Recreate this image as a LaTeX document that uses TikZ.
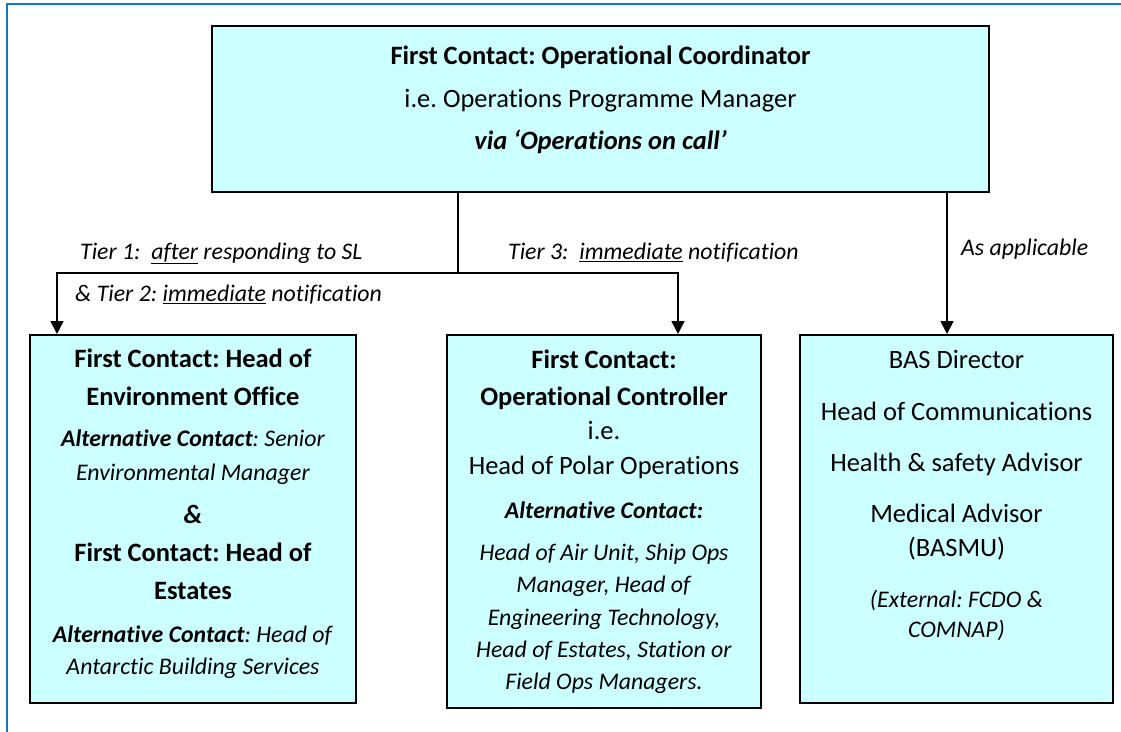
\documentclass[tikz,border=0pt]{standalone}
\usepackage{fontspec}
\setmainfont{Carlito}[Ligatures=NoCommon]
\frenchspacing
\usetikzlibrary{arrows.meta,positioning}

\definecolor{boxcyan}{HTML}{CCFFFF}
\definecolor{frameblue}{HTML}{1874C4}

% text sizes used inside the boxes
\newcommand{\mainsize}{\fontsize{26.5}{32}\selectfont}
\newcommand{\notesize}{\fontsize{23.8}{32}\selectfont}

\begin{document}
\begin{tikzpicture}[x=1pt,y=-1pt,
    box/.style={draw=black,line width=2pt,fill=boxcyan,anchor=north west,inner sep=0pt},
    boxtext/.style={anchor=base,align=center,inner sep=0pt,font=\mainsize},
    link/.style={line width=1.6pt},
    arrow/.style={link,-{Triangle[width=13pt,length=13pt]}},
    tier/.style={anchor=base west,inner sep=0pt,font=\notesize\itshape}]
  \useasboundingbox (0,0) rectangle (1121,731);
  \draw[frameblue,line width=2pt] (7,740) -- (7,4) -- (1130,4);

  % the four boxes
  \node[box,minimum width=777pt,minimum height=166pt] (top) at (211,25) {};
  \node[box,minimum width=326pt,minimum height=368pt] (env) at (29,334) {};
  \node[box,minimum width=314pt,minimum height=373pt] (ctrl) at (446,334) {};
  \node[box,minimum width=313pt,minimum height=368pt] (advisors) at (799,334) {};

  % box texts, placed by the baseline of their last line
  \node[boxtext] (toptext) at ([yshift=-124pt]top.north)
    {\textbf{First Contact: Operational Coordinator}\\[11pt]
     i.e. Operations Programme Manager\\[9.3pt]
     \textbf{\textit{via ‘Operations on call’}}};
  \node[boxtext] (envtext) at ([yshift=-340.7pt]env.north)
    {\textbf{First Contact: Head of}\\[5.5pt]
     \textbf{Environment Office}\\[9.3pt]
     {\notesize\textit{\textbf{Alternative Contact}: Senior}}\\[1.7pt]
     {\notesize\textit{Environmental Manager}}\\[11.3pt]
     \textbf{\textit{\&}}\\[6pt]
     \textbf{First Contact: Head of}\\[5.5pt]
     \textbf{Estates}\\[11.7pt]
     {\notesize\textit{\textbf{Alternative Contact}: Head of}}\\
     {\notesize\textit{Antarctic Building Services}}};
  \node[boxtext] (ctrltext) at ([yshift=-355.3pt]ctrl.north)
    {\textbf{First Contact:}\\[5pt]
     \textbf{Operational Controller}\\[1.3pt]
     i.e.\\[3.7pt]
     Head of Polar Operations\\[11.3pt]
     {\notesize\textit{\textbf{Alternative Contact:}}}\\[10pt]
     {\notesize\textit{Head of Air Unit, Ship Ops}}\\[0.7pt]
     {\notesize\textit{Manager, Head of}}\\[0.3pt]
     {\notesize\textit{Engineering Technology,}}\\[0.3pt]
     {\notesize\textit{Head of Estates, Station or}}\\
     {\notesize\textit{Field Ops Managers.}}};
  \node[boxtext] (advtext) at ([yshift=-303pt]advisors.north)
    {BAS Director\\[19.7pt]
     Head of Communications\\[18.6pt]
     Health \& safety Advisor\\[19pt]
     Medical Advisor\\[2.4pt]
     (BASMU)\\[18.6pt]
     {\notesize\textit{(External: FCDO \&}}\\[-2pt]
     {\notesize\textit{COMNAP)}}};

  % connectors
  \coordinate (split) at (458,273);
  \coordinate (leftdrop) at (57,273);
  \coordinate (middrop) at (678,273);
  \coordinate (sidedrop) at (947,273);
  \draw[link] (top.south -| split) -- (split);
  \draw[arrow] (split) -- (leftdrop) -- (leftdrop |- env.north);
  \draw[arrow] (split) -- (middrop) -- (middrop |- ctrl.north);
  \draw[arrow] (top.south -| sidedrop) -- (sidedrop |- advisors.north);

  \node[tier] (tier1) at (80,259.3) {Tier 1:~ \underline{after} responding to SL};
  \node[tier] (tier2) at (75,301.7) {\& Tier 2: \underline{immediate} notification};
  \node[tier] (tier3) at (508,259.3) {Tier 3:~ \underline{immediate} notification};
  \node[tier] (aside) at (961,255) {As applicable};
\end{tikzpicture}
\end{document}
